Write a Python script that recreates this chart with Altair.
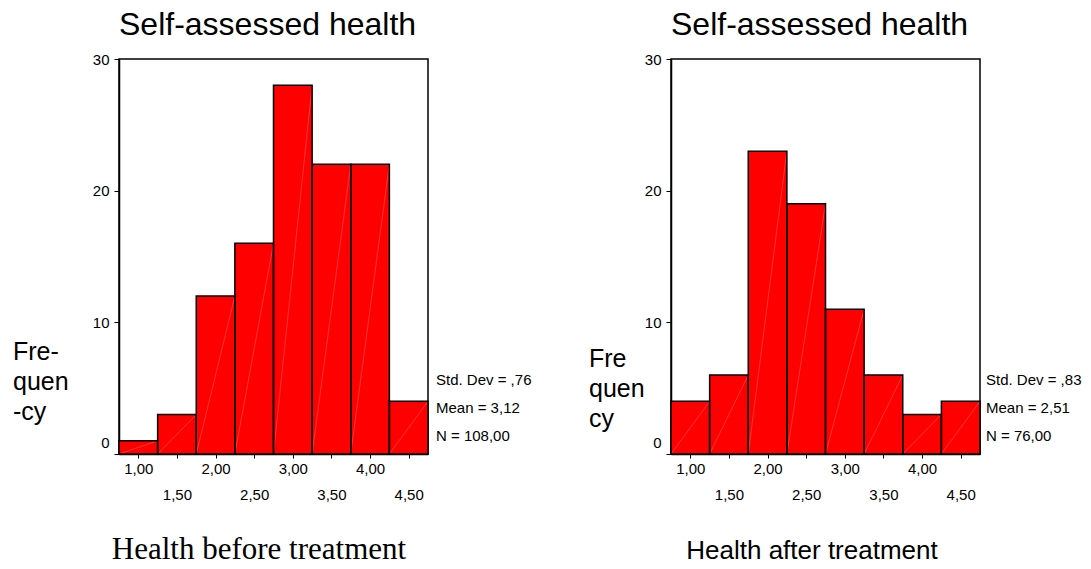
import altair as alt
import pandas as pd

# ---- data ----
bin_centers = [1.0, 1.5, 2.0, 2.5, 3.0, 3.5, 4.0, 4.5]
before_counts = [1, 3, 12, 16, 28, 22, 22, 4]
after_counts = [4, 6, 23, 19, 11, 6, 3, 4]
bin_width = 0.5
x_ticks = [1.0, 1.5, 2.0, 2.5, 3.0, 3.5, 4.0, 4.5]
y_ticks = [0, 10, 20, 30]
chart_title = "Self-assessed health"
before_stats = ["Std. Dev = ,76", "Mean = 3,12", "N = 108,00"]
after_stats = ["Std. Dev = ,83", "Mean = 2,51", "N = 76,00"]
before_ylabel = ["Fre-", "quen", "-cy"]
after_ylabel = ["Fre", "quen", "cy"]
before_xtitle = "Health before treatment"
after_xtitle = "Health after treatment"

W, H = 309, 395
SANS = "Liberation Sans"
SERIF = "Liberation Serif"

label_expr = (
    "datum.value % 1 == 0 ? replace(format(datum.value, '.2f'), '.', ',') "
    ": ['', replace(format(datum.value, '.2f'), '.', ',')]"
)


def panel(counts, stats, ylab, ylab_x, ylab_y, xtitle, xfont, xsize, xtitle_x, stats_x, anchor):
    df = pd.DataFrame({"center": bin_centers, "count": counts})
    base = alt.Chart(df).transform_calculate(
        lo=f"datum.center - {bin_width / 2}",
        hi=f"datum.center + {bin_width / 2}",
        zero="0",
    )
    xs = alt.Scale(domain=[0.75, 4.75], nice=False, zero=False)
    ys = alt.Scale(domain=[0, 30], nice=False)
    xaxis = alt.Axis(
        values=x_ticks, title=None, labelExpr=label_expr, labelFont=SANS,
        labelFontSize=15, labelColor="black", labelBaseline="top",
        labelLineHeight=26, labelPadding=3, tickSize=4, tickColor="black",
        tickWidth=1, domainColor="black", domainWidth=1.5, grid=False,
        labelOverlap=False, labelFlush=False, labelBound=False,
    )
    yaxis = alt.Axis(
        values=y_ticks, title=None, labelFont=SANS, labelFontSize=15,
        labelColor="black", labelPadding=5, tickSize=5, tickColor="black",
        tickWidth=1, domainColor="black", domainWidth=1.5, grid=False,
        labelOverlap=False, labelFlush=False,
        labelOffset={"condition": {"test": "datum.value == 0", "value": -12}, "value": 0},
    )
    fill = base.mark_rect(color="#ff0000", strokeWidth=0).encode(
        x=alt.X("lo:Q", scale=xs, axis=xaxis),
        x2="hi:Q",
        y=alt.Y("count:Q", scale=ys, axis=yaxis),
        y2="zero:Q",
    )
    diag = base.mark_rule(color="white", opacity=0.3, strokeWidth=0.7).encode(
        x="lo:Q", x2="hi:Q", y="zero:Q", y2="count:Q"
    )
    outline = base.mark_rect(fillOpacity=0, fill="white", stroke="black", strokeWidth=1.5).encode(
        x="lo:Q", x2="hi:Q", y="count:Q", y2="zero:Q"
    )
    one = pd.DataFrame({"k": [0]})
    layers = [fill, diag, outline]
    layers.append(
        alt.Chart(one).mark_text(text=chart_title, align="left", baseline="alphabetic",
                                 font=SANS, fontSize=32, color="black")
        .encode(x=alt.value(0), y=alt.value(-24))
    )
    layers.append(
        alt.Chart(one).mark_text(text=ylab, align="left", baseline="alphabetic",
                                 font=SANS, fontSize=25, lineHeight=30, color="black")
        .encode(x=alt.value(ylab_x), y=alt.value(ylab_y))
    )
    layers.append(
        alt.Chart(one).mark_text(text=stats, align="left", baseline="alphabetic",
                                 font=SANS, fontSize=15, lineHeight=28, color="black")
        .encode(x=alt.value(stats_x), y=alt.value(326))
    )
    layers.append(
        alt.Chart(one).mark_text(text=xtitle, align="center", baseline="alphabetic",
                                 font=xfont, fontSize=xsize, color="black")
        .encode(x=alt.value(xtitle_x), y=alt.value(500))
    )
    if anchor:
        layers.append(
            alt.Chart(one).mark_rule(color="white", strokeWidth=0.5)
            .encode(x=alt.value(-110), x2=alt.value(-110), y=alt.value(-50), y2=alt.value(-50))
        )
    return alt.layer(*layers).properties(width=W, height=H)


left = panel(before_counts, before_stats, before_ylabel, -106, 301,
             before_xtitle, SERIF, 31, 140, 317, True)
right = panel(after_counts, after_stats, after_ylabel, -82, 308,
              after_xtitle, SANS, 26, 141, 315, False)

chart = (
    alt.hconcat(left, right, spacing=243, bounds="flush")
    .properties(padding=0, background="white")
    .configure(font=SANS)
    .configure_view(stroke="black", strokeWidth=1.5)
)

chart.save("out.html", embed_options={"renderer": "svg", "actions": False})
